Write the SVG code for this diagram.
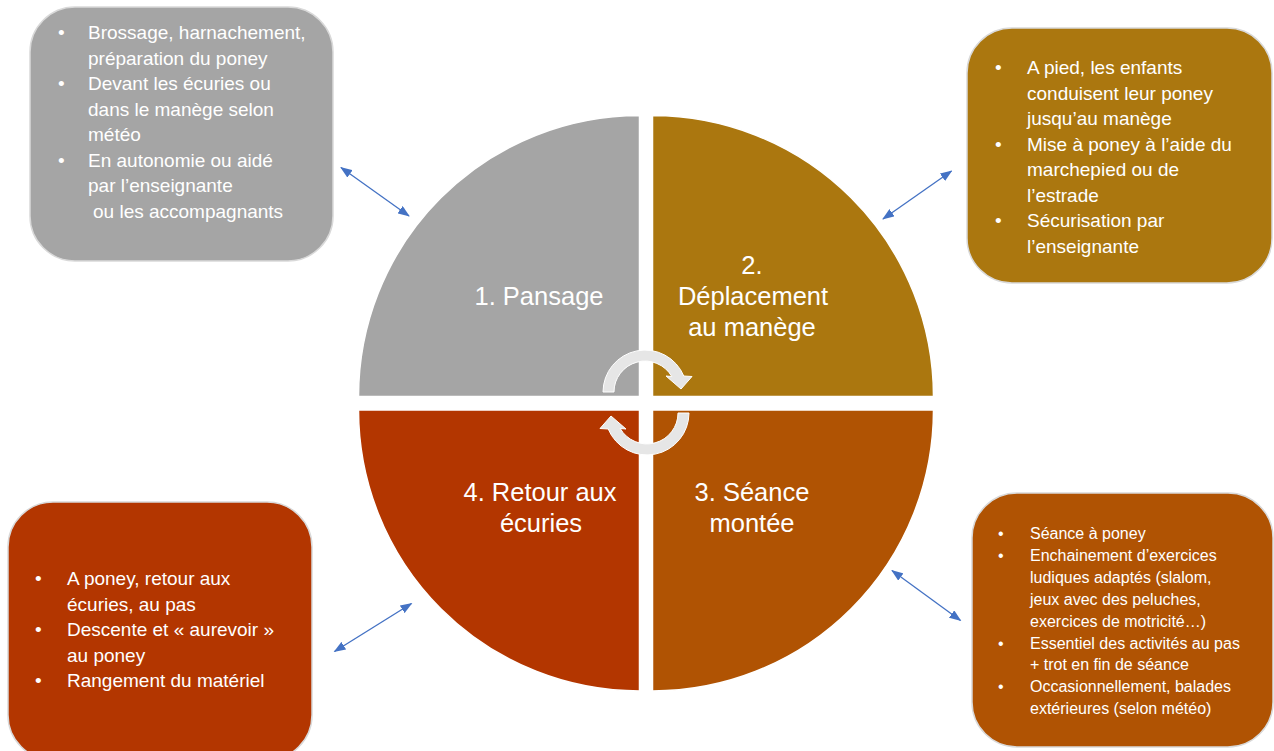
<svg xmlns="http://www.w3.org/2000/svg" width="1274" height="751" viewBox="0 0 1274 751">
<style>
.box{stroke:#D9D9D9;stroke-width:1.5}
.q{stroke:#FFFFFF;stroke-width:1.5}
.t{font-family:"Liberation Sans",Arial,sans-serif;font-size:19px;fill:#FFFFFF}
.ts{font-family:"Liberation Sans",Arial,sans-serif;font-size:16px;fill:#FFFFFF}
.lbl{font-family:"Liberation Sans",Arial,sans-serif;font-size:25.5px;fill:#FFFFFF;text-anchor:middle}
.con{stroke:#4472C4;stroke-width:1.3;fill:none;marker-start:url(#ah);marker-end:url(#ah)}
.cyc{fill:#E6E6E6;stroke:#FFFFFF;stroke-width:1}
</style>
<defs>
<marker id="ah" viewBox="0 0 12 9" refX="11" refY="4.5" markerWidth="12" markerHeight="9" markerUnits="userSpaceOnUse" orient="auto-start-reverse">
<path d="M0,0 L12,4.5 L0,9 Z" fill="#4472C4"/>
</marker>
</defs>
<rect width="1274" height="751" fill="#FFFFFF"/>

<g id="quadrant-1">
<path class="q" d="M639.5 396.5 L358.5 396.5 A281 281 0 0 1 639.5 115.5 Z" fill="#A5A5A5"/>
<text class="lbl" x="539" y="305">1. Pansage</text>
</g>
<g id="quadrant-2">
<path class="q" d="M652.5 396.5 L652.5 115.5 A281 281 0 0 1 933.5 396.5 Z" fill="#AB770F"/>
<text class="lbl" x="752" y="274">2.</text>
<text class="lbl" x="753" y="305">Déplacement</text>
<text class="lbl" x="752" y="336">au manège</text>
</g>
<g id="quadrant-3">
<path class="q" d="M652.5 410 L933.5 410 A281 281 0 0 1 652.5 691 Z" fill="#B05303"/>
<text class="lbl" x="752" y="501">3. Séance</text>
<text class="lbl" x="752" y="532">montée</text>
</g>
<g id="quadrant-4">
<path class="q" d="M639.5 410 L639.5 691 A281 281 0 0 1 358.5 410 Z" fill="#B33600"/>
<text class="lbl" x="540" y="501">4. Retour aux</text>
<text class="lbl" x="541" y="532">écuries</text>
</g>

<g id="cycle-arrows">
<path class="cyc" d="M603 392 A42 42 0 0 1 683.8 376 L692 376.5 L681 389 L666 376 L671.8 376.5 A31 31 0 0 0 614 392 Z"/>
<path class="cyc" transform="rotate(180 646 402.5)" d="M603 392 A42 42 0 0 1 683.8 376 L692 376.5 L681 389 L666 376 L671.8 376.5 A31 31 0 0 0 614 392 Z"/>
</g>

<g id="box-pansage">
<rect class="box" x="30" y="7" width="303" height="254" rx="45" fill="#A5A5A5"/>
<g class="t">
<text x="58" y="39">•</text><text x="88" y="39">Brossage, harnachement,</text>
<text x="88" y="64.5">préparation du poney</text>
<text x="58" y="90">•</text><text x="88" y="90">Devant les écuries ou</text>
<text x="88" y="115.5">dans le manège selon</text>
<text x="88" y="141">météo</text>
<text x="58" y="166.5">•</text><text x="88" y="166.5">En autonomie ou aidé</text>
<text x="88" y="192">par l’enseignante</text>
<text x="93" y="217.5">ou les accompagnants</text>
</g>
</g>

<g id="box-deplacement">
<rect class="box" x="967" y="28" width="305" height="255" rx="45" fill="#AB770F"/>
<g class="t">
<text x="995" y="74">•</text><text x="1027" y="74">A pied, les enfants</text>
<text x="1027" y="99.5">conduisent leur poney</text>
<text x="1027" y="125">jusqu’au manège</text>
<text x="995" y="150.5">•</text><text x="1027" y="150.5">Mise à poney à l’aide du</text>
<text x="1027" y="176">marchepied ou de</text>
<text x="1027" y="201.5">l’estrade</text>
<text x="995" y="227">•</text><text x="1027" y="227">Sécurisation par</text>
<text x="1027" y="252.5">l’enseignante</text>
</g>
</g>

<g id="box-seance">
<rect class="box" x="972" y="493" width="301" height="254" rx="45" fill="#B05303"/>
<g class="ts">
<text x="998" y="539">•</text><text x="1030" y="539">Séance à poney</text>
<text x="998" y="561">•</text><text x="1030" y="561">Enchainement d’exercices</text>
<text x="1030" y="583">ludiques adaptés (slalom,</text>
<text x="1030" y="605">jeux avec des peluches,</text>
<text x="1030" y="627">exercices de motricité…)</text>
<text x="998" y="648.5">•</text><text x="1030" y="648.5">Essentiel des activités au pas</text>
<text x="1030" y="670">+ trot en fin de séance</text>
<text x="998" y="692">•</text><text x="1030" y="692">Occasionnellement, balades</text>
<text x="1030" y="714">extérieures (selon météo)</text>
</g>
</g>

<g id="box-retour">
<rect class="box" x="8" y="502" width="304" height="258" rx="45" fill="#B33600"/>
<g class="t">
<text x="35" y="585">•</text><text x="67" y="585">A poney, retour aux</text>
<text x="67" y="610.5">écuries, au pas</text>
<text x="35" y="636">•</text><text x="67" y="636">Descente et « aurevoir »</text>
<text x="67" y="661.5">au poney</text>
<text x="35" y="687">•</text><text x="67" y="687">Rangement du matériel</text>
</g>
</g>

<g id="connectors">
<line class="con" x1="341" y1="167.5" x2="409" y2="216"/>
<line class="con" x1="951.5" y1="171" x2="883" y2="219"/>
<line class="con" x1="892" y1="570.5" x2="960.5" y2="620.5"/>
<line class="con" x1="411.5" y1="603.5" x2="334.5" y2="651.5"/>
</g>
</svg>
